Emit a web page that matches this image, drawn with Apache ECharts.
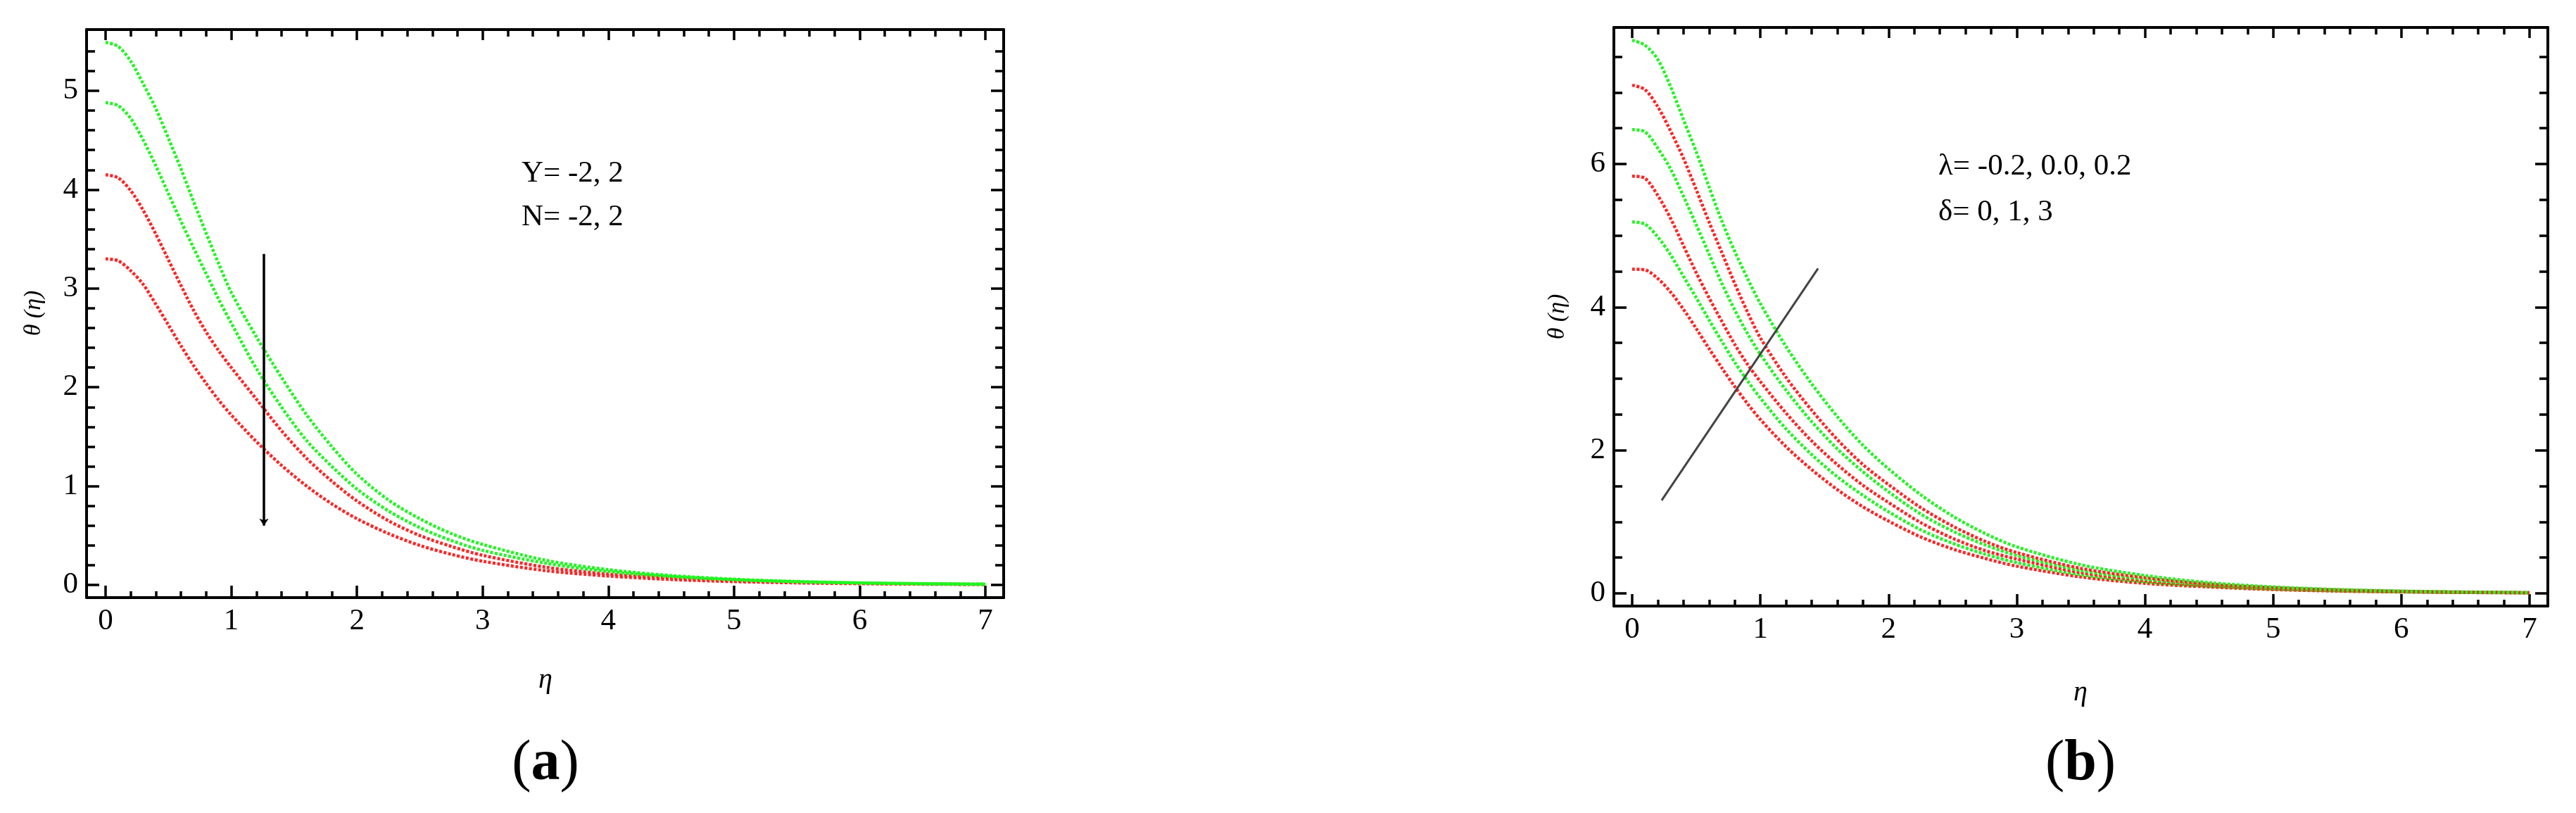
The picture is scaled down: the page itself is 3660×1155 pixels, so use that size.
<!DOCTYPE html>
<html>
<head>
<meta charset="utf-8">
<script src="https://cdn.jsdelivr.net/npm/echarts@6/dist/echarts.min.js"></script>
<style>
html,body{margin:0;padding:0;background:#fff;}
#c{width:3660px;height:1155px;}
</style>
</head>
<body>
<div id="c"></div>
<script>
// ---------- data ----------
const eta = [0,0.1,0.2,0.3,0.4,0.5,0.6,0.7,0.8,0.9,1.0,1.2,1.4,1.6,1.8,2.0,2.25,2.5,2.75,3.0,3.5,4.0,4.5,5.0,5.5,6.0,6.5,7.0];

// panel (a)
const aGreen1 = [5.49,5.45,5.30,5.07,4.82,4.52,4.21,3.88,3.56,3.25,2.96,2.51,2.10,1.72,1.40,1.12,0.86,0.67,0.52,0.41,0.25,0.155,0.095,0.058,0.035,0.021,0.013,0.008];
const aGreen2 = [4.88,4.85,4.72,4.50,4.24,3.96,3.68,3.41,3.15,2.89,2.65,2.19,1.80,1.46,1.20,0.97,0.75,0.58,0.45,0.35,0.22,0.135,0.085,0.052,0.032,0.020,0.012,0.007];
const aRed1   = [4.15,4.12,3.99,3.79,3.55,3.29,3.03,2.78,2.56,2.37,2.20,1.88,1.56,1.28,1.05,0.85,0.65,0.50,0.39,0.30,0.18,0.11,0.07,0.043,0.026,0.016,0.010,0.006];
const aRed2   = [3.30,3.28,3.18,3.04,2.84,2.63,2.42,2.22,2.04,1.87,1.72,1.45,1.21,1.00,0.82,0.67,0.52,0.40,0.31,0.24,0.145,0.09,0.055,0.034,0.021,0.013,0.008,0.005];

// panel (b)
const bGreen1 = [7.73,7.66,7.46,7.08,6.62,6.17,5.68,5.20,4.78,4.40,4.05,3.45,2.93,2.47,2.07,1.74,1.38,1.08,0.84,0.65,0.40,0.25,0.15,0.090,0.055,0.033,0.020,0.012];
const bRed1   = [7.10,7.04,6.80,6.46,6.08,5.64,5.19,4.76,4.33,3.93,3.57,3.02,2.56,2.15,1.80,1.52,1.20,0.94,0.73,0.57,0.35,0.22,0.13,0.080,0.048,0.029,0.018,0.010];
const bGreen2 = [6.48,6.45,6.22,5.93,5.55,5.15,4.74,4.33,3.96,3.63,3.34,2.84,2.40,2.02,1.70,1.42,1.11,0.87,0.68,0.53,0.32,0.20,0.12,0.072,0.044,0.026,0.016,0.010];
const bRed2   = [5.83,5.80,5.56,5.24,4.86,4.48,4.13,3.80,3.48,3.20,2.96,2.52,2.13,1.80,1.51,1.27,0.99,0.77,0.60,0.48,0.29,0.18,0.11,0.065,0.040,0.024,0.015,0.009];
const bGreen3 = [5.19,5.16,4.98,4.73,4.43,4.13,3.82,3.52,3.23,2.97,2.73,2.30,1.94,1.63,1.37,1.14,0.89,0.70,0.55,0.43,0.26,0.16,0.10,0.060,0.036,0.022,0.013,0.008];
const bRed3   = [4.53,4.52,4.40,4.21,3.97,3.70,3.42,3.15,2.89,2.65,2.43,2.05,1.73,1.45,1.21,1.01,0.79,0.62,0.49,0.38,0.23,0.14,0.09,0.054,0.032,0.020,0.012,0.007];

// tick values
const xMajorTicks = [0,1,2,3,4,5,6,7];
const xMinorTicks = [0.2,0.4,0.6,0.8,1.2,1.4,1.6,1.8,2.2,2.4,2.6,2.8,3.2,3.4,3.6,3.8,4.2,4.4,4.6,4.8,5.2,5.4,5.6,5.8,6.2,6.4,6.6,6.8];
const aYMajorTicks = [0,1,2,3,4,5];
const aYMinorTicks = [0.2,0.4,0.6,0.8,1.2,1.4,1.6,1.8,2.2,2.4,2.6,2.8,3.2,3.4,3.6,3.8,4.2,4.4,4.6,4.8,5.2,5.4];
const bYMajorTicks = [0,2,4,6];
const bYMinorTicks = [0.5,1,1.5,2.5,3,3.5,4.5,5,5.5,6.5,7,7.5];

// annotation arrows [start, end] in data units
const arrowA = [[1.26,3.35],[1.26,0.60]];
const arrowB = [[1.45,4.54],[0.23,1.30]];

// ---------- chart ----------
const FONT = '"Liberation Serif", "DejaVu Serif", serif';
const GREEN = '#22f522';
const RED = '#ff2424';

function xAxes(grid, min, max) {
  const base = {type:'value', gridIndex:grid, min:min, max:max, splitLine:{show:false}};
  return [
    Object.assign({}, base, {position:'bottom',
      axisLine:{show:true, onZero:false, lineStyle:{color:'#000', width:4}},
      axisTick:{show:true, inside:true, length:17, customValues:xMajorTicks, lineStyle:{color:'#000', width:3.5}},
      axisLabel:{show:true, customValues:xMajorTicks, margin:12, color:'#000', fontFamily:FONT, fontSize:43, formatter:v=>String(v)}}),
    Object.assign({}, base, {position:'bottom',
      axisLine:{show:false, onZero:false},
      axisTick:{show:true, inside:true, length:9, customValues:xMinorTicks, lineStyle:{color:'#000', width:3.5}},
      axisLabel:{show:false}}),
    Object.assign({}, base, {position:'top',
      axisLine:{show:true, onZero:false, lineStyle:{color:'#000', width:4}},
      axisTick:{show:true, inside:true, length:15, customValues:xMajorTicks, lineStyle:{color:'#000', width:3.5}},
      axisLabel:{show:false}}),
    Object.assign({}, base, {position:'top',
      axisLine:{show:false, onZero:false},
      axisTick:{show:true, inside:true, length:10, customValues:xMinorTicks, lineStyle:{color:'#000', width:3.5}},
      axisLabel:{show:false}})
  ];
}
function yAxes(grid, min, max, major, minor) {
  const base = {type:'value', gridIndex:grid, min:min, max:max, splitLine:{show:false}};
  return [
    Object.assign({}, base, {position:'left',
      axisLine:{show:true, onZero:false, lineStyle:{color:'#000', width:4}},
      axisTick:{show:true, inside:true, length:18, customValues:major, lineStyle:{color:'#000', width:3.5}},
      axisLabel:{show:true, customValues:major, margin:12, color:'#000', fontFamily:FONT, fontSize:43, formatter:v=>String(v)}}),
    Object.assign({}, base, {position:'left',
      axisLine:{show:false, onZero:false},
      axisTick:{show:true, inside:true, length:12, customValues:minor, lineStyle:{color:'#000', width:3.5}},
      axisLabel:{show:false}}),
    Object.assign({}, base, {position:'right',
      axisLine:{show:true, onZero:false, lineStyle:{color:'#000', width:4}},
      axisTick:{show:true, inside:true, length:18, customValues:major, lineStyle:{color:'#000', width:3.5}},
      axisLabel:{show:false}}),
    Object.assign({}, base, {position:'right',
      axisLine:{show:false, onZero:false},
      axisTick:{show:true, inside:true, length:12, customValues:minor, lineStyle:{color:'#000', width:3.5}},
      axisLabel:{show:false}})
  ];
}

function curve(values, color, xi, yi) {
  return {
    type:'line', xAxisIndex:xi, yAxisIndex:yi,
    data: eta.map((e,i)=>[e, values[i]]),
    smooth:0.3, showSymbol:false, silent:true,
    lineStyle:{color:color, width:4.5, type:[4,2.5]}
  };
}
function arrowSeries(pts, xi, yi, withHead, color, width) {
  return {
    type:'line', xAxisIndex:xi, yAxisIndex:yi, data:[], silent:true,
    markLine:{
      silent:true, animation:false,
      symbol: withHead ? ['none','arrow'] : ['none','none'],
      symbolSize: withHead ? 10 : 0,
      label:{show:false},
      itemStyle:{color:'#555'},
      lineStyle:{color:color, width:width, type:'solid'},
      data:[[{coord:pts[0]},{coord:pts[1]}]]
    }
  };
}

const chart = echarts.init(document.getElementById('c'), null, {renderer:'canvas'});

const capRich = {
  p:{fontFamily:FONT, fontSize:82, fill:'#000', color:'#000'},
  b:{fontFamily:FONT, fontSize:82, fontWeight:'bold', fill:'#000', color:'#000'}
};
function txt(text, x, y, font, align) {
  return {type:'text', silent:true, style:{text:text, x:x, y:y, font:font, fill:'#000',
    textAlign:align, textVerticalAlign:'middle', align:align, verticalAlign:'middle'}};
}

const option = {
  backgroundColor:'#fff',
  animation:false,
  grid:[
    {left:123, top:42, width:1303, height:807},
    {left:2293, top:39, width:1327, height:822}
  ],
  xAxis: [].concat(
    xAxes(0, -0.1512, 7.1456),
    xAxes(1, -0.1427, 7.1429)
  ),
  yAxis: [].concat(
    yAxes(0, -0.1282, 5.6197, aYMajorTicks, aYMinorTicks),
    yAxes(1, -0.1770, 7.9080, bYMajorTicks, bYMinorTicks)
  ),
  series: [
    curve(aRed2, RED, 0, 0),
    curve(aRed1, RED, 0, 0),
    curve(aGreen2, GREEN, 0, 0),
    curve(aGreen1, GREEN, 0, 0),
    arrowSeries(arrowA, 0, 0, true, '#000', 3.5),
    curve(bRed3, RED, 4, 4),
    curve(bGreen3, GREEN, 4, 4),
    curve(bRed2, RED, 4, 4),
    curve(bGreen2, GREEN, 4, 4),
    curve(bRed1, RED, 4, 4),
    curve(bGreen1, GREEN, 4, 4),
    arrowSeries(arrowB, 4, 4, false, '#444', 3)
  ],
  graphic: [
    // panel (a)
    txt('Y= -2, 2', 741, 247, '43px ' + FONT, 'left'),
    txt('N= -2, 2', 741, 309, '43px ' + FONT, 'left'),
    {type:'text', silent:true, rotation:Math.PI/2, x:48, y:445, style:{text:'θ (η)', x:0, y:0, font:'italic 34px ' + FONT, fill:'#000', textAlign:'center', textVerticalAlign:'middle', align:'center', verticalAlign:'middle'}},
    txt('η', 775, 966, 'italic 40px ' + FONT, 'center'),
    {type:'text', silent:true, style:{text:'{p|(}{b|a}{p|)}', x:775, y:1086, textAlign:'center', textVerticalAlign:'middle', align:'center', verticalAlign:'middle', rich:capRich}},
    // panel (b)
    txt('λ= -0.2, 0.0, 0.2', 2754, 237, '43px ' + FONT, 'left'),
    txt('δ= 0, 1, 3', 2754, 302, '43px ' + FONT, 'left'),
    {type:'text', silent:true, rotation:Math.PI/2, x:2213, y:450, style:{text:'θ (η)', x:0, y:0, font:'italic 34px ' + FONT, fill:'#000', textAlign:'center', textVerticalAlign:'middle', align:'center', verticalAlign:'middle'}},
    txt('η', 2956, 984, 'italic 40px ' + FONT, 'center'),
    {type:'text', silent:true, style:{text:'{p|(}{b|b}{p|)}', x:2956, y:1086, textAlign:'center', textVerticalAlign:'middle', align:'center', verticalAlign:'middle', rich:capRich}}
  ]
};
chart.setOption(option);
</script>
</body>
</html>
